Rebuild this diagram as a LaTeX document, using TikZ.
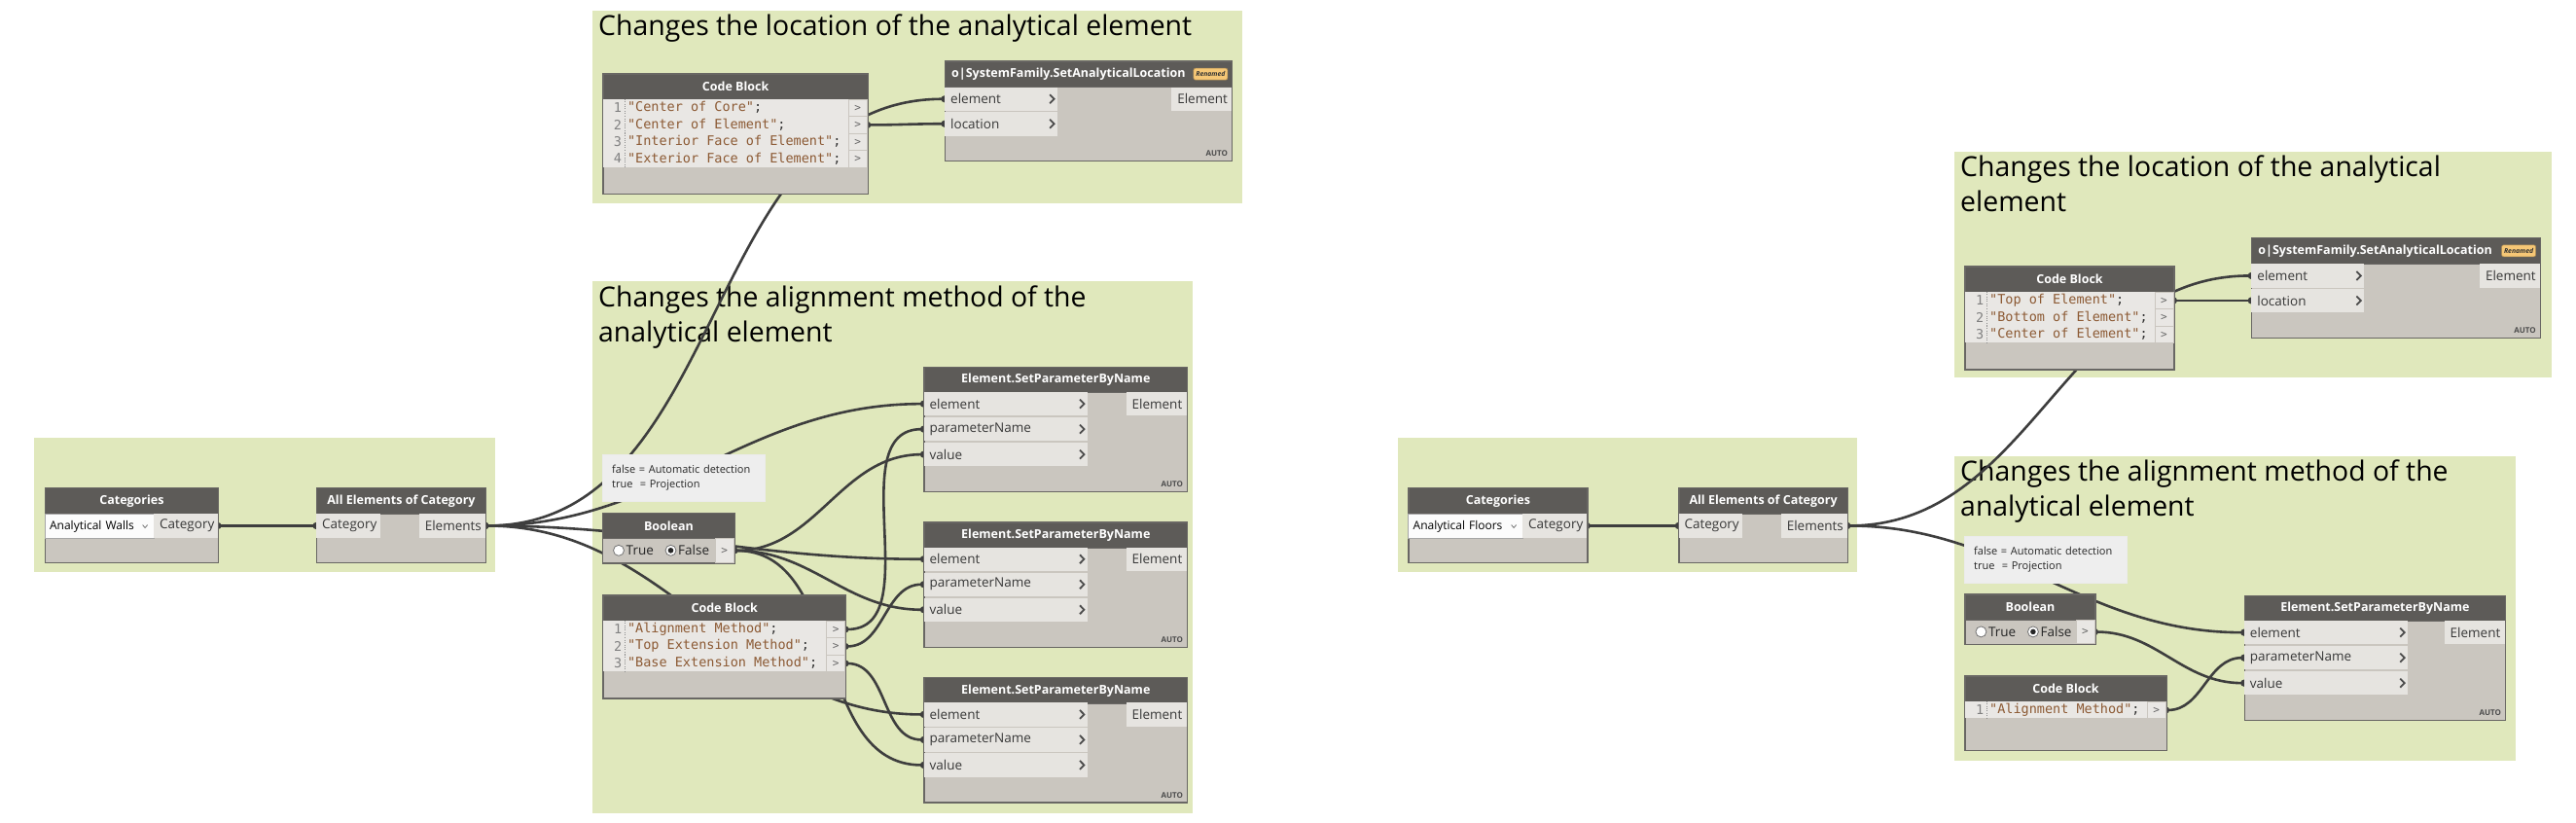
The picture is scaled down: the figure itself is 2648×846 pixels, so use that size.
\documentclass[tikz,border=0pt]{standalone}
\usepackage{fontspec}
\setmainfont{Open Sans}
\newfontfamily\codefont{DejaVu Sans Mono}
\usetikzlibrary{arrows.meta}

\definecolor{grpgreen}{RGB}{224,232,188}
\definecolor{bodygray}{RGB}{202,198,191}
\definecolor{headgray}{RGB}{93,91,88}
\definecolor{edgegray}{RGB}{105,103,100}
\definecolor{portlight}{RGB}{230,228,224}
\definecolor{codelight}{RGB}{233,231,228}
\definecolor{wiredark}{RGB}{62,62,62}
\definecolor{codebrown}{RGB}{140,90,52}
\definecolor{notegray}{RGB}{238,238,238}
\definecolor{badgeorange}{RGB}{246,199,118}

\pgfdeclarelayer{groups}
\pgfdeclarelayer{wires}
\pgfsetlayers{groups,wires,main}

\newcommand\titlefnt{\fontsize{28.4}{36}\selectfont}
\newcommand\headfnt{\fontsize{12.5}{15}\selectfont\bfseries}
\newcommand\portfnt{\fontsize{13.5}{16}\selectfont}
\newcommand\dropfnt{\fontsize{12}{14}\selectfont}
\newcommand\notefnt{\fontsize{11}{14.5}\selectfont}
\newcommand\autofnt{\fontsize{8}{9}\selectfont\bfseries}
\newcommand\badgefnt{\fontsize{6.8}{7}\selectfont\bfseries\itshape}
\newcommand\cbfnt{\codefont\fontsize{13.5}{16}\selectfont}

% node body with its dark title bar
\newcommand\dynnode[6]{% name, x, y, width, height, title
  \node[nodebox, minimum width=#4, minimum height=#5] (#1) at (#2,#3) {};
  \node[nodehead, minimum width=#4] (#1-head) at (#1.north west) {#6};
}
\newcommand\inport[5]{% name, x, y, width, label
  \pgfmathsetlengthmacro\portw{#4-12}
  \node[inport, text width=\portw] (#1) at (#2,#3) {#5};
}
\newcommand\outport[5]{% name, right x, y, width, label
  \pgfmathsetlengthmacro\portw{#4-12}
  \node[outport, text width=\portw] (#1) at (#2,#3) {#5};
}
\newcommand\codeblock[6]{% name, x, y, width, height, lines
  \dynnode{#1}{#2}{#3}{#4}{#5}{Code Block}
  \foreach \cbtext [count=\i] in {#6} {
    \fill[codelight] (#2+0.6,#3+9+17.5*\i) rectangle (#2+#4-19,#3+26.5+17.5*\i);
    \draw[dotted, black!45] (#2+22.5,#3+9+17.5*\i) -- (#2+22.5,#3+26.5+17.5*\i);
    \node[lineno] at (#2+20,#3+17.75+17.5*\i) {\i};
    \node[codetext] at (#2+25.5,#3+17.75+17.5*\i) {\textcolor{codebrown}{"\cbtext"};};
    \node[outcell] (#1-o\i) at (#2+#4,#3+9+17.5*\i) {>};
  }
}
\newcommand\boolnode[4]{% name, x, y, width
  \dynnode{#1}{#2}{#3}{#4}{51.6}{Boolean}
  \draw[radio] (#2+17,#3+39.1) circle (5.5);
  \node[radiotext] at (#2+24.5,#3+39.1) {True};
  \draw[radio] (#2+70.5,#3+39.1) circle (5.5);
  \fill[black!85] (#2+70.5,#3+39.1) circle (2.8);
  \node[radiotext] at (#2+78,#3+39.1) {False};
  \node[outcell, minimum height=24.5] (#1-out) at (#2+#4,#3+26.6) {>};
}
\newcommand\catnode[6]{% name, x, y, width, dropdown width, value
  \dynnode{#1}{#2}{#3}{#4}{77}{Categories}
  \pgfmathsetlengthmacro\dropw{#5-10}
  \node[dropdown, text width=\dropw] (#1-drop) at (#2,#3+27) {#6};
  \draw[black!55, line width=0.8pt] ([xshift=-10pt]#1-drop.east) ++(-2.5,-1.5) -- ++(2.5,3) -- ++(2.5,-3);
  \outport{#1-out}{#2+#4}{#3+27}{#4-#5}{Category}
}
\newcommand\aecnode[4]{% name, x, y, width
  \dynnode{#1}{#2}{#3}{#4}{77}{All Elements of Category}
  \inport{#1-in}{#2}{#3+27}{65.7}{Category}
  \outport{#1-out}{#2+#4}{#3+27}{67.7}{Elements}
}
\newcommand\salnode[4]{% name, x, y, width
  \dynnode{#1}{#2}{#3}{#4}{102.7}{}
  \node[headtext] at ([xshift=7pt]#1-head.west) {o|SystemFamily.SetAnalyticalLocation};
  \node[badge] at ([xshift=-5pt]#1-head.east) {Renamed};
  \foreach \pname [count=\i] in {element,location} {
    \inport{#1-\pname}{#2}{#3+1.5+25.5*\i}{116}{\pname}
    \pic at ([xshift=-6pt]#1-\pname.east) {chev};
  }
  \outport{#1-res}{#2+#4}{#3+27}{61.5}{Element}
  \node[autolbl] at ([shift={(-5,-5)}]#1.south east) {AUTO};
}
\newcommand\spbnnode[4]{% name, x, y, width
  \dynnode{#1}{#2}{#3}{#4}{128.3}{Element.SetParameterByName}
  \foreach \pname [count=\i] in {element,parameterName,value} {
    \inport{#1-\pname}{#2}{#3+26*\i}{168.4}{\pname}
    \pic at ([xshift=-6pt]#1-\pname.east) {chev};
  }
  \outport{#1-res}{#2+#4}{#3+26}{62.2}{Element}
  \node[autolbl] at ([shift={(-5,-5)}]#1.south east) {AUTO};
}

\begin{document}
\begin{tikzpicture}[x=1pt,y=-1pt,
  grp/.style={fill=grpgreen},
  grptitle/.style={anchor=base west, inner sep=0pt, align=left, font=\titlefnt, text=black},
  nodebox/.style={draw=edgegray, fill=bodygray, line width=1.2pt, anchor=north west, inner sep=0pt},
  nodehead/.style={draw=edgegray, fill=headgray, line width=1.2pt, anchor=north west, inner sep=0pt,
    minimum height=26.5pt, text=white, font=\headfnt},
  headtext/.style={anchor=west, inner sep=0pt, text=white, font=\headfnt},
  inport/.style={fill=portlight, anchor=north west, minimum height=24.5pt, inner xsep=6pt, inner ysep=0pt,
    align=left, font=\portfnt, text=black!78},
  outport/.style={inport, anchor=north east, align=right},
  dropdown/.style={fill=white!95!bodygray, draw=black!35, line width=0.8pt, anchor=north west,
    minimum height=25.3pt, inner xsep=5pt, inner ysep=0pt, align=left, font=\dropfnt, text=black},
  outcell/.style={fill=codelight, draw=bodygray, line width=0.8pt, anchor=north east, minimum width=19pt,
    minimum height=17.5pt, inner sep=0pt, font=\codefont\fontsize{11}{12}\selectfont, text=black!60},
  lineno/.style={anchor=east, inner sep=0pt, font=\cbfnt, text=black!50},
  codetext/.style={anchor=west, inner sep=0pt, font=\cbfnt, text=black!80},
  radio/.style={fill=white, draw=black!55, line width=0.8pt},
  radiotext/.style={anchor=west, inner sep=0pt, font=\portfnt, text=black!85},
  note/.style={fill=notegray, draw=black!8, anchor=north west, text width=147pt, minimum height=48.5pt,
    inner xsep=10pt, align=left, font=\notefnt, text=black!85},
  badge/.style={fill=badgeorange, draw=badgeorange!70!black, rounded corners=2pt, line width=0.6pt,
    anchor=east, inner sep=0pt, minimum width=35pt, minimum height=12pt, font=\badgefnt, text=black!80},
  autolbl/.style={anchor=south east, inner sep=0pt, font=\autofnt, text=black!70},
  chev/.pic={\draw[line width=1.8pt, black!70] (-2.2,-4.5) -- (2.2,0) -- (-2.2,4.5);},
  wire/.style={draw=wiredark, line width=2.6pt, {Circle[length=7pt]}-{Circle[length=7pt]},
    shorten <=-3.5pt, shorten >=-3.5pt}]

\useasboundingbox (0,0) rectangle (2648,846);

\begin{pgfonlayer}{groups}
  \fill[white] (0,0) rectangle (2648,846);
  \fill[grp] (35,450) rectangle (509,588);
  \fill[grp] (609,11) rectangle (1277,209);
  \fill[grp] (609,289) rectangle (1226,836);
  \fill[grp] (1437,450) rectangle (1909,588);
  \fill[grp] (2009,156) rectangle (2623,388);
  \fill[grp] (2009,469) rectangle (2586,782);
  % base of a two-line title is the baseline of its last line
  \node[grptitle] (tLocL) at (615,36.7) {Changes the location of the analytical element};
  \node[grptitle] (tAlignL) at (615,351) {Changes the alignment method of the\\analytical element};
  \node[grptitle] (tLocR) at (2015,217) {Changes the location of the analytical\\element};
  \node[grptitle] (tAlignR) at (2015,530.5) {Changes the alignment method of the\\analytical element};
\end{pgfonlayer}

% walls
\catnode{catL}{45.7}{501}{178.3}{112.6}{Analytical Walls}
\aecnode{aecL}{325}{501}{173.7}
\codeblock{cbL1}{619.3}{75.3}{272.4}{123.5}{Center of Core,Center of Element,Interior Face of Element,Exterior Face of Element}
\salnode{salL}{971}{62.3}{295}
\node[note] (noteL) at (619,466.7) {false = Automatic detection\\true\ \ = Projection};
\boolnode{boolL}{619}{526.7}{135.7}
\codeblock{cbL2}{619.4}{611.3}{249.6}{106}{Alignment Method,Top Extension Method,Base Extension Method}
\foreach \y [count=\n] in {376.7,536.3,696} {\spbnnode{spL\n}{949.4}{\y}{270.6}}

% floors
\catnode{catR}{1447.3}{501}{184}{118}{Analytical Floors}
\aecnode{aecR}{1725.3}{501}{173.4}
\codeblock{cbR1}{2019.4}{273.3}{215}{106}{Top of Element,Bottom of Element,Center of Element}
\salnode{salR}{2314.2}{244}{296.5}
\node[note] (noteR) at (2019,550.7) {false = Automatic detection\\true\ \ = Projection};
\boolnode{boolR}{2019.4}{610.3}{134}
\codeblock{cbR2}{2019.4}{694.3}{207.1}{76.7}{Alignment Method}
\spbnnode{spR}{2306.7}{611.7}{268.3}

\begin{pgfonlayer}{wires}
  \foreach \src/\dst in {catL-out/aecL-in, aecL-out/salL-element, aecL-out/spL1-element,
      aecL-out/spL2-element, aecL-out/spL3-element, cbL1-o2/salL-location,
      boolL-out/spL1-value, boolL-out/spL2-value, boolL-out/spL3-value,
      cbL2-o1/spL1-parameterName, cbL2-o2/spL2-parameterName, cbL2-o3/spL3-parameterName,
      catR-out/aecR-in, aecR-out/salR-element, aecR-out/spR-element, cbR1-o1/salR-location,
      boolR-out/spR-value, cbR2-o1/spR-parameterName}
    \draw[wire] (\src.east) to[out=0,in=180] (\dst.west);
\end{pgfonlayer}
\end{tikzpicture}
\end{document}
